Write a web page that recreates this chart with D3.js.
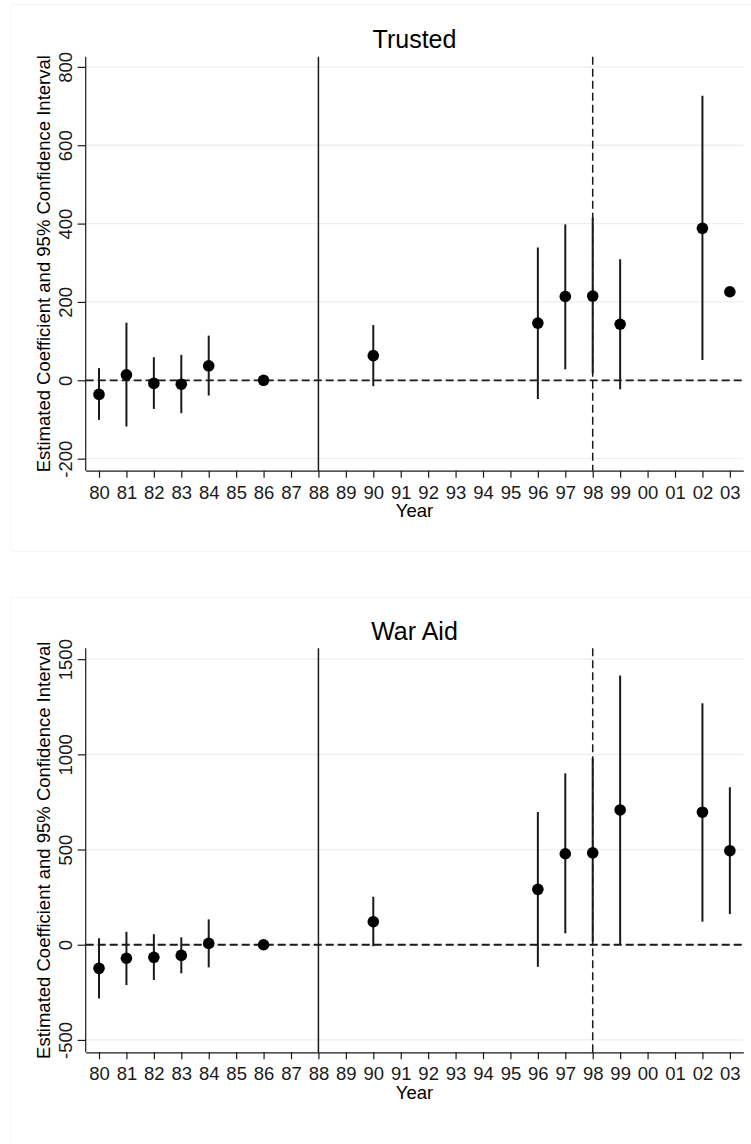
<!DOCTYPE html>
<html>
<head>
<meta charset="utf-8">
<script src="https://cdn.jsdelivr.net/npm/d3@7"></script>
<style>
  body { margin: 0; background: #fff; }
  svg { display: block; font-family: "Liberation Sans", Arial, sans-serif; }
</style>
</head>
<body>
<svg id="chart" width="751" height="1144"></svg>
<script>
// tick labels for the year axis
var yearTicks = [1980, 1981, 1982, 1983, 1984, 1985, 1986, 1987, 1988, 1989, 1990, 1991,
                 1992, 1993, 1994, 1995, 1996, 1997, 1998, 1999, 2000, 2001, 2002, 2003];
var yearLabels = ["80", "81", "82", "83", "84", "85", "86", "87", "88", "89", "90", "91",
                  "92", "93", "94", "95", "96", "97", "98", "99", "00", "01", "02", "03"];

// Trusted panel
var trustedYears = [1980, 1981, 1982, 1983, 1984, 1986, 1990, 1996, 1997, 1998, 1999, 2002, 2003];
var trustedCoef  = [-36, 14, -8, -10, 37, 0, 63, 146, 214, 215, 143, 388, 226];
var trustedLo    = [-101, -118, -73, -84, -39, null, -15, -48, 28, 18, -23, 52, null];
var trustedHi    = [31, 147, 59, 65, 114, null, 141, 339, 398, 415, 309, 726, null];
var trustedTicks = [-200, 0, 200, 400, 600, 800];

// War Aid panel
var warYears = [1980, 1981, 1982, 1983, 1984, 1986, 1990, 1996, 1997, 1998, 1999, 2002, 2003];
var warCoef  = [-124, -71, -66, -56, 7, 0, 121, 291, 478, 483, 708, 696, 494];
var warLo    = [-282, -212, -185, -150, -119, null, -8, -116, 60, 16, -2, 121, 161];
var warHi    = [34, 68, 55, 39, 133, null, 252, 697, 900, 979, 1414, 1268, 827];
var warTicks = [-500, 0, 500, 1000, 1500];

var INK = "#1a1a1a";
var GRID = "#e9f0f2";
var LEFT = 85.7, RIGHT = 743.3;

var svg = d3.select("#chart");

function drawPanel(opt) {
  var g = svg.append("g");

  // faint outer frame of the graph region
  g.append("rect")
    .attr("x", 11.5).attr("y", opt.frameTop)
    .attr("width", 760).attr("height", opt.frameH)
    .attr("fill", "none").attr("stroke", "#f6f6f6");

  var x = d3.scaleLinear().domain([1979.515, 2003.49]).range([LEFT, RIGHT]);
  var y = d3.scaleLinear().domain(opt.domain).range([opt.bottom, opt.top]);

  // gridlines
  g.selectAll(".grid").data(opt.ticks).enter().append("line")
    .attr("x1", LEFT).attr("x2", RIGHT)
    .attr("y1", function(d) { return y(d); })
    .attr("y2", function(d) { return y(d); })
    .attr("stroke", GRID).attr("stroke-width", 1.3);

  // zero reference line
  g.append("line")
    .attr("x1", LEFT).attr("x2", RIGHT)
    .attr("y1", y(0)).attr("y2", y(0))
    .attr("stroke", INK).attr("stroke-width", 1.8)
    .attr("stroke-dasharray", "8,4");

  // solid line at 88, dashed at 98
  g.append("line")
    .attr("x1", x(1988)).attr("x2", x(1988))
    .attr("y1", opt.top).attr("y2", opt.bottom)
    .attr("stroke", INK).attr("stroke-width", 1.5);
  g.append("line")
    .attr("x1", x(1998)).attr("x2", x(1998))
    .attr("y1", opt.top).attr("y2", opt.bottom)
    .attr("stroke", INK).attr("stroke-width", 1.5)
    .attr("stroke-dasharray", "8,4");

  // axes
  var xAxis = g.append("g")
    .attr("transform", "translate(0," + opt.bottom + ")")
    .call(d3.axisBottom(x).tickValues(yearTicks).tickSize(7).tickSizeOuter(0)
      .tickFormat(function(d, i) { return yearLabels[i]; }));
  xAxis.select(".domain").attr("stroke", INK).attr("stroke-width", 1.2);
  xAxis.selectAll(".tick line").attr("stroke", INK).attr("stroke-width", 1.2);
  xAxis.selectAll("text")
    .attr("y", 28).attr("dy", 0)
    .attr("fill", INK).style("font-size", "18.5px")
    .style("font-family", "'Liberation Sans', Arial, sans-serif");

  var yAxis = g.append("g")
    .attr("transform", "translate(" + LEFT + ",0)")
    .call(d3.axisLeft(y).tickValues(opt.ticks).tickSize(8).tickSizeOuter(0)
      .tickFormat(function(d) { return d; }));
  yAxis.select(".domain").attr("stroke", INK).attr("stroke-width", 1.2)
    .attr("d", "M0," + opt.top + "V" + opt.bottom);
  yAxis.selectAll(".tick line").attr("stroke", INK).attr("stroke-width", 1.2);
  yAxis.selectAll("text")
    .attr("x", null).attr("dy", 0)
    .attr("transform", "translate(-14,0) rotate(-90)")
    .attr("text-anchor", "middle")
    .attr("fill", INK).style("font-size", "18.5px")
    .style("font-family", "'Liberation Sans', Arial, sans-serif");

  // titles
  g.append("text")
    .attr("x", (LEFT + RIGHT) / 2).attr("y", opt.top - 8.5)
    .attr("text-anchor", "middle").style("font-size", "25px")
    .attr("fill", "#000").text(opt.title);
  g.append("text")
    .attr("x", (LEFT + RIGHT) / 2).attr("y", opt.bottom + 46.5)
    .attr("text-anchor", "middle").style("font-size", "18.5px")
    .attr("fill", "#000").text("Year");
  g.append("text")
    .attr("transform", "translate(50," + ((opt.top + opt.bottom) / 2) + ") rotate(-90)")
    .attr("text-anchor", "middle").style("font-size", "18.5px")
    .attr("fill", "#000").text("Estimated Coefficient and 95% Confidence Interval");

  // confidence intervals
  var rows = opt.years.map(function(yr, i) {
    return { year: yr, coef: opt.coef[i], lo: opt.lo[i], hi: opt.hi[i] };
  });
  g.selectAll(".ci").data(rows.filter(function(d) { return d.lo !== null; }))
    .enter().append("line")
    .attr("x1", function(d) { return x(d.year); })
    .attr("x2", function(d) { return x(d.year); })
    .attr("y1", function(d) { return y(d.lo); })
    .attr("y2", function(d) { return y(d.hi); })
    .attr("stroke", INK).attr("stroke-width", 2);

  // point estimates
  g.selectAll(".pt").data(rows).enter().append("circle")
    .attr("cx", function(d) { return x(d.year); })
    .attr("cy", function(d) { return y(d.coef); })
    .attr("r", 5.8).attr("fill", "#000");
}

drawPanel({
  title: "Trusted", years: trustedYears, coef: trustedCoef, lo: trustedLo, hi: trustedHi,
  ticks: trustedTicks, domain: [-230.8, 826], top: 56.7, bottom: 470.7,
  frameTop: 4.5, frameH: 547
});
drawPanel({
  title: "War Aid", years: warYears, coef: warCoef, lo: warLo, hi: warHi,
  ticks: warTicks, domain: [-565, 1557], top: 648.3, bottom: 1052.3,
  frameTop: 597.5, frameH: 600
});
</script>
</body>
</html>
